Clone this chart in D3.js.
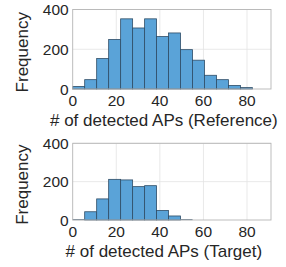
<!DOCTYPE html>
<html>
<head>
<meta charset="utf-8">
<script src="https://cdn.jsdelivr.net/npm/d3@7"></script>
<style>
  body { margin: 0; background: #fff; }
  svg text { font-family: "Liberation Sans", Arial, Helvetica, sans-serif; fill: #262626; }
</style>
</head>
<body>
<svg id="root"></svg>
<script>
  // bin edges shared by both histograms
  const binEdges = [0, 5.5, 11, 16.5, 22, 27.5, 33, 38.5, 44, 49.5, 55, 60.5, 66, 71.5, 77, 82.5];
  const refCounts = [13, 47, 153, 249, 353, 307, 353, 264, 282, 198, 145, 69, 47, 18, 7];
  const tgtCounts = [0, 43, 110, 212, 209, 174, 179, 50, 21, 0];
  const xTicks = [0, 20, 40, 60, 80];
  const yTicks = [0, 200, 400];

  let svg = d3.select("#root")
    .attr("width", 286)
    .attr("height", 267);

  let x = d3.scaleLinear().domain([0, 91]).range([72.7, 271]);

  let panels = [
    { counts: refCounts, label: "# of detected APs (Reference)", top: 9.5, bottom: 89 },
    { counts: tgtCounts, label: "# of detected APs (Target)", top: 143.3, bottom: 220 }
  ];

  for (let p of panels) {
    let y = d3.scaleLinear().domain([0, 400]).range([p.bottom, p.top]);
    let g = svg.append("g");

    // grid
    g.selectAll(".gx")
      .data(xTicks.slice(1))
      .enter().append("line")
      .attr("x1", d => x(d)).attr("x2", d => x(d))
      .attr("y1", p.top).attr("y2", p.bottom)
      .attr("stroke", "#e3e3e3").attr("stroke-width", 0.8);
    g.selectAll(".gy")
      .data(yTicks.slice(1))
      .enter().append("line")
      .attr("x1", x.range()[0]).attr("x2", x.range()[1])
      .attr("y1", d => y(d)).attr("y2", d => y(d))
      .attr("stroke", "#e3e3e3").attr("stroke-width", 0.8);

    // bars (empty bins show as a flat edge line)
    let bins = p.counts.map((c, i) => ({ x0: binEdges[i], x1: binEdges[i + 1], c: c }));
    g.selectAll(".bar")
      .data(bins.filter(d => d.c > 0))
      .enter().append("rect")
      .attr("x", d => x(d.x0))
      .attr("width", d => x(d.x1) - x(d.x0))
      .attr("y", d => y(d.c))
      .attr("height", d => y(0) - y(d.c))
      .attr("fill", "#5aa3d8")
      .attr("stroke", "#2f4d66")
      .attr("stroke-width", 0.8);
    g.selectAll(".empty")
      .data(bins.filter(d => d.c === 0))
      .enter().append("line")
      .attr("x1", d => x(d.x0)).attr("x2", d => x(d.x1))
      .attr("y1", y(0) - 0.4).attr("y2", y(0) - 0.4)
      .attr("stroke", "#2f4d66")
      .attr("stroke-width", 0.8);

    // box
    g.append("rect")
      .attr("x", x.range()[0]).attr("y", p.top)
      .attr("width", x.range()[1] - x.range()[0])
      .attr("height", p.bottom - p.top)
      .attr("fill", "none")
      .attr("stroke", "#b5b5b5")
      .attr("stroke-width", 0.9);

    // tick labels
    g.selectAll(".xt")
      .data(xTicks)
      .enter().append("text")
      .attr("x", d => x(d))
      .attr("y", p.bottom + 17)
      .attr("text-anchor", "middle")
      .style("font-size", "15.5px")
      .text(d => d);
    g.selectAll(".yt")
      .data(yTicks)
      .enter().append("text")
      .attr("x", x.range()[0] - 4)
      .attr("y", d => y(d) + 5.5)
      .attr("text-anchor", "end")
      .style("font-size", "15.5px")
      .text(d => d);

    // axis labels
    g.append("text")
      .attr("x", (x.range()[0] + x.range()[1]) / 2 - 8)
      .attr("y", p.bottom + 37)
      .attr("text-anchor", "middle")
      .style("font-size", "17px")
      .text(p.label);
    g.append("text")
      .attr("transform", `translate(28,${(p.top + p.bottom) / 2 + 3}) rotate(-90)`)
      .attr("text-anchor", "middle")
      .style("font-size", "17px")
      .text("Frequency");
  }
</script>
</body>
</html>
